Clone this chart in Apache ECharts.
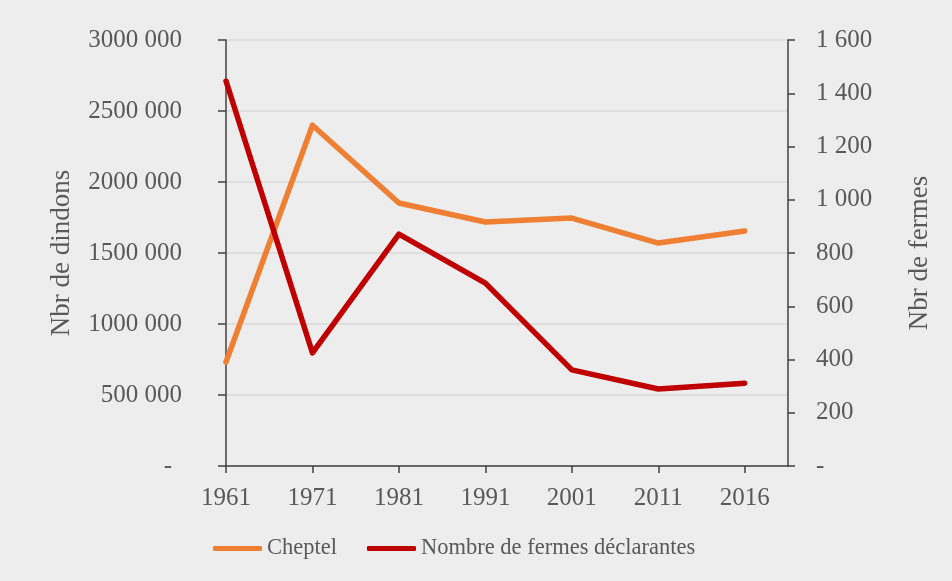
<!DOCTYPE html>
<html>
<head>
<meta charset="utf-8">
<script src="https://cdn.jsdelivr.net/npm/echarts@6/dist/echarts.min.js"></script>
<style>
  html, body { margin: 0; padding: 0; background: #ededed; }
  #chart { width: 952px; height: 581px; }
</style>
</head>
<body>
<div id="chart"></div>
<script>
// Census years
const years = ['1961', '1971', '1981', '1991', '2001', '2011', '2016'];
// Turkey flock size (left axis)
const cheptel = [732000, 2400000, 1852000, 1718000, 1746000, 1570000, 1655000];
// Number of reporting farms (right axis)
const fermes = [1446, 425, 871, 687, 361, 289, 311];
// Tick labels, from 0 upward
const leftTicks = ['-', '500 000', '1000 000', '1500 000', '2000 000', '2500 000', '3000 000'];
const rightTicks = ['-', '200', '400', '600', '800', '1 000', '1 200', '1 400', '1 600'];

const FONT = '"Liberation Serif", "DejaVu Serif", serif';
const TXT = '#595959';
const AXIS = '#404040';

const chart = echarts.init(document.getElementById('chart'));
const idx = years.map((_, i) => i);

chart.setOption({
  backgroundColor: '#ededed',
  animation: false,
  textStyle: { fontFamily: FONT, color: TXT },
  grid: { left: 226, right: 164, top: 40, bottom: 115 },
  legend: {
    bottom: 16,
    left: 208,
    itemWidth: 49,
    itemHeight: 5,
    itemGap: 30,
    icon: 'roundRect',
    textStyle: { fontFamily: FONT, fontSize: 22.5, color: TXT },
    data: ['Cheptel', 'Nombre de fermes déclarantes']
  },
  xAxis: {
    type: 'value',
    min: 0,
    max: 6.5,
    interval: 1,
    splitLine: { show: false },
    axisLine: { show: true, onZero: false, lineStyle: { color: AXIS, width: 1.5 } },
    axisTick: { show: true, length: 7, customValues: idx, lineStyle: { color: AXIS, width: 1.5 } },
    axisLabel: {
      customValues: idx,
      margin: 20,
      fontFamily: FONT,
      fontSize: 25,
      color: TXT,
      formatter: v => years[Math.round(v)] || ''
    }
  },
  yAxis: [
    {
      type: 'value',
      min: 0,
      max: 3000000,
      interval: 500000,
      name: 'Nbr de dindons',
      nameLocation: 'middle',
      nameGap: 151,
      nameRotate: 90,
      nameTextStyle: { fontFamily: FONT, fontSize: 27, color: TXT },
      axisLine: { show: true, lineStyle: { color: AXIS, width: 1.5 } },
      axisTick: { show: true, length: 8, lineStyle: { color: AXIS, width: 1.5 } },
      splitLine: { show: true, lineStyle: { color: '#d9d9d9', width: 1.5 } },
      axisLabel: {
        margin: 44,
        fontFamily: FONT,
        fontSize: 25,
        color: TXT,
        formatter: v => {
          const i = Math.round(v / 500000);
          return i === 0 ? '{z|' + leftTicks[i] + '}' : leftTicks[i];
        },
        rich: { z: { fontFamily: FONT, fontSize: 25, color: TXT, padding: [0, 10, 0, 0] } }
      }
    },
    {
      type: 'value',
      min: 0,
      max: 1600,
      interval: 200,
      position: 'right',
      name: 'Nbr de fermes',
      nameLocation: 'middle',
      nameGap: 118,
      nameRotate: 90,
      nameTextStyle: { fontFamily: FONT, fontSize: 27, color: TXT },
      axisLine: { show: true, lineStyle: { color: AXIS, width: 1.5 } },
      axisTick: { show: true, length: 7, lineStyle: { color: AXIS, width: 1.5 } },
      splitLine: { show: false },
      axisLabel: {
        margin: 28,
        fontFamily: FONT,
        fontSize: 25,
        color: TXT,
        formatter: v => rightTicks[Math.round(v / 200)]
      }
    }
  ],
  series: [
    {
      name: 'Cheptel',
      type: 'line',
      yAxisIndex: 0,
      data: cheptel.map((v, i) => [idx[i], v]),
      symbol: 'none',
      color: '#ef7f32',
      lineStyle: { width: 5.5, color: '#ef7f32', cap: 'round', join: 'round' },
      z: 3
    },
    {
      name: 'Nombre de fermes déclarantes',
      type: 'line',
      yAxisIndex: 1,
      data: fermes.map((v, i) => [idx[i], v]),
      symbol: 'none',
      color: '#c00000',
      lineStyle: { width: 5.5, color: '#c00000', cap: 'round', join: 'round' },
      z: 4
    }
  ]
});
</script>
</body>
</html>
